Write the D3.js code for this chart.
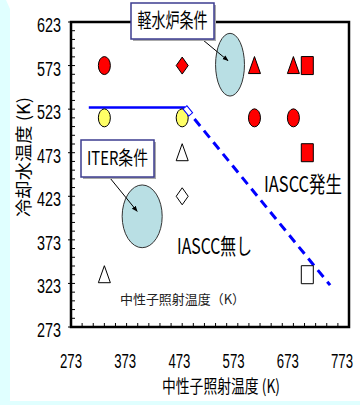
<!DOCTYPE html>
<html><head><meta charset="utf-8">
<script src="https://cdn.jsdelivr.net/npm/d3@7"></script>
<style>html,body{margin:0;padding:0;background:#e0ffff;}svg{display:block;}</style>
</head><body>
<script>
// ---- data ----
const xTicks = [273, 373, 473, 573, 673, 773];
const yTicks = [273, 323, 373, 423, 473, 523, 573, 623];
const redCircles   = [[333, 573], [603, 513], [673, 513]];
const redDiamonds  = [[473, 573]];
const redTriangles = [[603, 573], [673, 573]];
const redSquares   = [[698, 573], [698, 473]];
const yellowCircles = [[333, 513], [473, 513]];
const openTriangles = [[473, 473], [333, 333]];
const openDiamonds  = [[473, 423]];
const openSquares   = [[698, 333]];
const solidBoundary  = [[305, 525], [478, 525]];
const dashedBoundary = [[478, 525], [739, 321]];
const lwrEllipse  = {cx: 559, cy: 574, rx: 26, ry: 36};
const iterEllipse = {cx: 401, cy: 400, rx: 36, ry: 36};
const xTitle = "中性子照射温度 (K)";
const yTitle = "冷却水温度 (K)";

const W = 360, H = 405;
const svg = d3.select("body").append("svg").attr("width", W).attr("height", H);
svg.append("rect").attr("width", W).attr("height", H).attr("fill", "#e0ffff");
svg.append("path").attr("d", "M6,0 H360 V401 H10 V9 Z").attr("fill", "#ffffff");

const x = d3.scaleLinear().domain([273, 773]).range([71, 349]);
const y = d3.scaleLinear().domain([273, 623]).range([327, 22]);
const xLab = d3.scaleLinear().domain([273, 773]).range([71, 342]);

const g = svg.append("g");

// ticks (inward minor)
g.selectAll(".xt").data(d3.range(273, 774, 20)).join("line")
  .attr("x1", d => x(d)).attr("x2", d => x(d)).attr("y1", y(273)).attr("y2", y(273) - 4)
  .attr("stroke", "#000").attr("stroke-width", 1);
g.selectAll(".yt").data(d3.range(273, 624, 10)).join("line")
  .attr("x1", x(273)).attr("x2", x(273) + 4).attr("y1", d => y(d)).attr("y2", d => y(d))
  .attr("stroke", "#000").attr("stroke-width", 1);
g.selectAll(".yto").data(yTicks).join("line")
  .attr("x1", x(273) - 3).attr("x2", x(273)).attr("y1", d => y(d)).attr("y2", d => y(d))
  .attr("stroke", "#000").attr("stroke-width", 1);

// frame
g.append("rect").attr("x", x(273)).attr("y", y(623)).attr("width", x(773) - x(273)).attr("height", y(273) - y(623))
  .attr("fill", "none").attr("stroke", "#000").attr("stroke-width", 2.5);

// tick labels
svg.selectAll(".yl").data(yTicks).join("text")
  .attr("x", 49).attr("y", d => y(d) + 10).attr("text-anchor", "middle")
  .attr("font-family", "Liberation Sans, Arial, sans-serif").attr("font-size", 20)
  .attr("textLength", 24).attr("lengthAdjust", "spacingAndGlyphs").text(d => d);
svg.selectAll(".xl").data(xTicks).join("text")
  .attr("x", d => xLab(d)).attr("y", 368).attr("text-anchor", "middle")
  .attr("font-family", "Liberation Sans, Arial, sans-serif").attr("font-size", 20)
  .attr("textLength", 22).attr("lengthAdjust", "spacingAndGlyphs").text(d => d);

// titles
const cjk = "'Noto Sans CJK JP', 'Noto Sans', sans-serif";
svg.append("text").attr("x", 221).attr("y", 393).attr("text-anchor", "middle")
  .attr("font-family", cjk).attr("font-size", 18).attr("textLength", 118).attr("lengthAdjust", "spacingAndGlyphs")
  .text(xTitle);
svg.append("text").attr("transform", "translate(30,157) rotate(-90)").attr("text-anchor", "middle")
  .attr("font-family", cjk).attr("font-size", 17).attr("textLength", 120).attr("lengthAdjust", "spacingAndGlyphs")
  .text(yTitle);

// inner texts
svg.append("text").attr("x", 120).attr("y", 304).attr("font-family", cjk).attr("font-size", 13)
  .attr("fill", "#222").attr("textLength", 125).attr("lengthAdjust", "spacingAndGlyphs").text("中性子照射温度（K）");
svg.append("text").attr("x", 264).attr("y", 192).attr("font-family", cjk).attr("font-size", 22)
  .attr("textLength", 78).attr("lengthAdjust", "spacingAndGlyphs").text("IASCC発生");
svg.append("text").attr("x", 177).attr("y", 254).attr("font-family", cjk).attr("font-size", 22)
  .attr("textLength", 75).attr("lengthAdjust", "spacingAndGlyphs").text("IASCC無し");

// ellipses
[lwrEllipse, iterEllipse].forEach(e => {
  svg.append("ellipse").attr("cx", x(e.cx)).attr("cy", y(e.cy))
    .attr("rx", x(e.cx + e.rx) - x(e.cx)).attr("ry", y(e.cy) - y(e.cy + e.ry))
    .attr("fill", "#b9dfe4").attr("stroke", "#333").attr("stroke-width", 1);
});

// boundary lines
const line = d3.line().x(d => x(d[0])).y(d => y(d[1]));
svg.append("path").attr("d", line(solidBoundary)).attr("stroke", "#0000ff").attr("stroke-width", 2.5).attr("fill", "none");
svg.append("path").attr("d", line(dashedBoundary)).attr("stroke", "#0000ff").attr("stroke-width", 3)
  .attr("stroke-dasharray", "9,6").attr("fill", "none");

// markers
function ell(data, fill) {
  svg.selectAll(null).data(data).join("ellipse")
    .attr("cx", d => x(d[0])).attr("cy", d => y(d[1])).attr("rx", 6).attr("ry", 9)
    .attr("fill", fill).attr("stroke", "#000").attr("stroke-width", 1);
}
function poly(data, fill, pts) {
  svg.selectAll(null).data(data).join("path")
    .attr("d", d => "M" + pts.map(p => [x(d[0]) + p[0], y(d[1]) + p[1]].join(",")).join("L") + "Z")
    .attr("fill", fill).attr("stroke", "#000").attr("stroke-width", 1);
}
const tri = [[0, -9], [6, 8], [-6, 8]];
const dia = [[0, -8.5], [6, 0], [0, 8.5], [-6, 0]];
const sq  = [[-6, -9], [6, -9], [6, 9], [-6, 9]];
ell(yellowCircles, "#ffff66");
ell(redCircles, "#ff0000");
poly(redDiamonds, "#ff0000", dia);
poly(redTriangles, "#ff0000", tri);
poly(redSquares, "#ff0000", sq);
poly(openTriangles, "#ffffff", tri);
poly(openDiamonds, "#ffffff", dia);
poly(openSquares, "#ffffff", sq);

// corner cap of boundary
const c0 = [x(dashedBoundary[0][0]), y(dashedBoundary[0][1])];
const ang = Math.atan2(y(dashedBoundary[1][1]) - c0[1], x(dashedBoundary[1][0]) - c0[0]) * 180 / Math.PI;
svg.append("rect").attr("x", 0).attr("y", -2.5).attr("width", 9).attr("height", 5)
  .attr("transform", `translate(${c0[0]},${c0[1]}) rotate(${ang})`)
  .attr("fill", "#fff").attr("stroke", "#0000ff").attr("stroke-width", 1);

// callouts
const defs = svg.append("defs");
defs.append("marker").attr("id", "ah").attr("viewBox", "0 0 10 10").attr("refX", 9).attr("refY", 5)
  .attr("markerWidth", 6).attr("markerHeight", 6).attr("orient", "auto")
  .append("path").attr("d", "M0,1 L10,5 L0,9 Z").attr("fill", "#000");

function callout(bx, by, bw, bh, label, fs, tl, from, to) {
  svg.append("line").attr("x1", from[0]).attr("y1", from[1]).attr("x2", to[0]).attr("y2", to[1])
    .attr("stroke", "#000").attr("stroke-width", 1).attr("marker-end", "url(#ah)");
  svg.append("rect").attr("x", bx + 2).attr("y", by + 2).attr("width", bw).attr("height", bh).attr("fill", "#aaa");
  svg.append("rect").attr("x", bx).attr("y", by).attr("width", bw).attr("height", bh)
    .attr("fill", "#fff").attr("stroke", "#3c3c90").attr("stroke-width", 1.5);
  svg.append("text").attr("x", bx + bw / 2).attr("y", by + bh / 2 + fs * 0.36).attr("text-anchor", "middle")
    .attr("font-family", cjk).attr("font-size", fs).attr("textLength", tl).attr("lengthAdjust", "spacingAndGlyphs")
    .text(label);
}
callout(131, 3, 83, 36, "軽水炉条件", 20, 70, [203, 40], [x(lwrEllipse.cx) - 2, y(lwrEllipse.cy) - 4]);
callout(81, 140, 73, 37, "ITER条件", 19, 61, [110, 178], [x(iterEllipse.cx) - 5, y(iterEllipse.cy) - 5]);
</script>
</body></html>
